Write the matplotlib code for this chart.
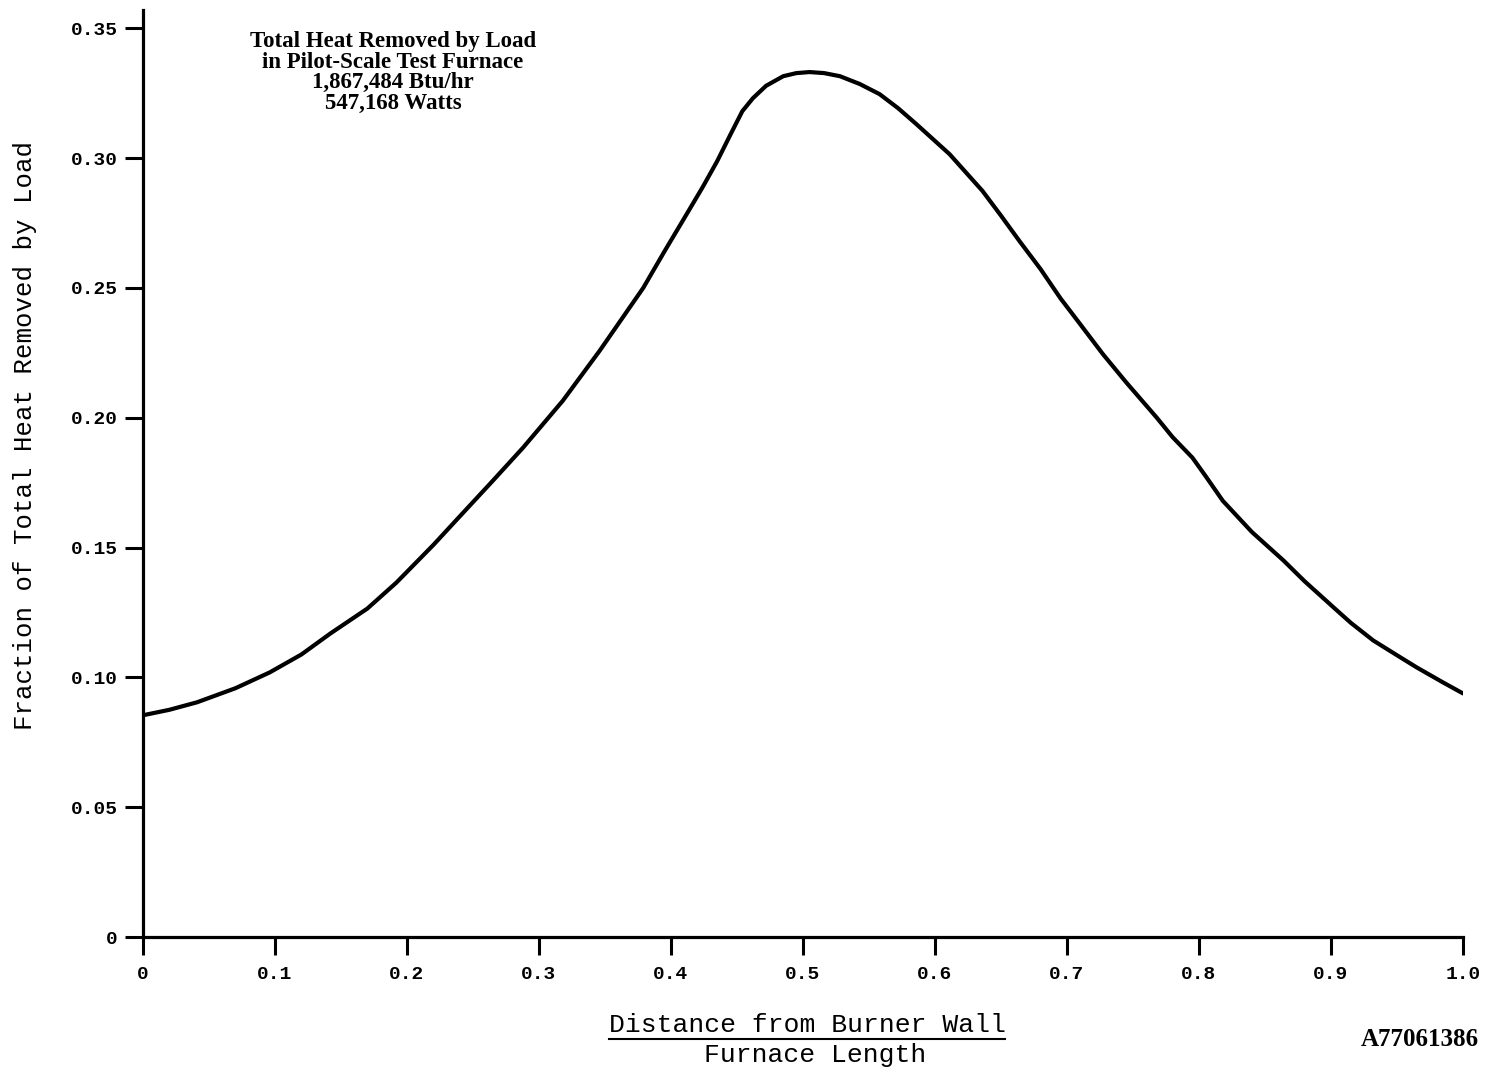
import matplotlib
matplotlib.use("Agg")
import matplotlib.pyplot as plt
from matplotlib.lines import Line2D

# values (x = distance / furnace length)
dist = [0.0, 0.02, 0.041, 0.07, 0.096, 0.12, 0.142, 0.17, 0.192, 0.22,
        0.242, 0.265, 0.288, 0.318, 0.346, 0.379, 0.395, 0.412, 0.424, 0.435,
        0.445, 0.454, 0.462, 0.472, 0.485, 0.495, 0.505, 0.516, 0.528, 0.543,
        0.558, 0.572, 0.586, 0.611, 0.636, 0.65, 0.664, 0.68, 0.695, 0.71,
        0.727, 0.745, 0.768, 0.78, 0.795, 0.805, 0.818, 0.84, 0.864, 0.88,
        0.902, 0.915, 0.932, 0.95, 0.965, 0.985, 1.0]
frac = [0.0854, 0.0875, 0.0904, 0.0958, 0.1019, 0.1088, 0.1169, 0.1265, 0.1365, 0.1510,
        0.1631, 0.1757, 0.1885, 0.2065, 0.2258, 0.2500, 0.2640, 0.2785, 0.2888, 0.2988,
        0.3090, 0.3180, 0.3230, 0.3278, 0.3315, 0.3327, 0.3331, 0.3327, 0.3315, 0.3285,
        0.3246, 0.3192, 0.3130, 0.3015, 0.2873, 0.2778, 0.2680, 0.2572, 0.2460, 0.2360,
        0.2246, 0.2135, 0.2000, 0.1925, 0.1846, 0.1775, 0.1680, 0.1560, 0.1450, 0.1370,
        0.1269, 0.1210, 0.1142, 0.1085, 0.1038, 0.0980, 0.0938]

xticks = [0, 0.1, 0.2, 0.3, 0.4, 0.5, 0.6, 0.7, 0.8, 0.9, 1.0]
xlabels = ["0", "0.1", "0.2", "0.3", "0.4", "0.5", "0.6", "0.7", "0.8", "0.9", "1.0"]
yticks = [0, 0.05, 0.10, 0.15, 0.20, 0.25, 0.30, 0.35]
ylabels = ["0", "0.05", "0.10", "0.15", "0.20", "0.25", "0.30", "0.35"]

note = "Total Heat Removed by Load\nin Pilot-Scale Test Furnace\n1,867,484 Btu/hr\n547,168 Watts"

W, H = 1495, 1071
fig = plt.figure(figsize=(W / 100, H / 100), dpi=100)
ax = fig.add_axes([143 / W, 134 / H, 1320 / W, 927 / H])

ax.plot(dist, frac, color="black", lw=3, solid_capstyle="round", solid_joinstyle="round")

ax.set_xlim(0, 1.0)
ax.set_ylim(0, 0.357)
for s in ["top", "right"]:
    ax.spines[s].set_visible(False)
for s in ["left", "bottom"]:
    ax.spines[s].set_linewidth(2.3)

tickfont = dict(family="Liberation Mono", weight="bold", size=14)
ax.set_xticks(xticks)
ax.set_xticklabels(xlabels, fontdict=tickfont)
ax.set_yticks(yticks)
ax.set_yticklabels(ylabels, fontdict=tickfont)
ax.tick_params(axis="x", direction="out", length=13, width=2.2, pad=8)
ax.tick_params(axis="y", direction="out", length=13, width=2.2, pad=5)

fig.text(393 / W, 1 - 31 / H, note, ha="center", va="top",
         family="Liberation Serif", weight="bold", size=16.5, linespacing=0.98)

fig.text(25 / W, 1 - 435 / H, "Fraction of Total Heat Removed by Load",
         rotation=90, ha="center", va="center", family="Liberation Mono", size=18.5)

xl = fig.text(807 / W, 1 - 1025 / H, "Distance from Burner Wall",
              ha="center", va="center", family="Liberation Mono", size=19)
fig.text(815 / W, 1 - 1055 / H, "Furnace Length",
         ha="center", va="center", family="Liberation Mono", size=19)

fig.text(1420 / W, 1 - 1040 / H, "A77061386", ha="center", va="center",
         family="Liberation Serif", weight="bold", size=18)

# underline the numerator of the axis title
fig.canvas.draw()
bb = xl.get_window_extent().transformed(fig.transFigure.inverted())
fig.add_artist(Line2D([bb.x0, bb.x1], [bb.y0 - 0.002, bb.y0 - 0.002],
                      transform=fig.transFigure, color="black", lw=1.5))

fig.savefig("out.png", dpi=100)
